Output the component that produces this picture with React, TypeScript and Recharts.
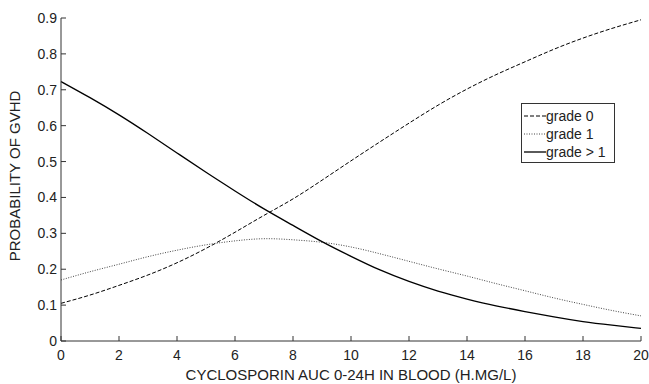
import React from 'react';
import { LineChart, Line, XAxis, YAxis } from 'recharts';

const auc = [0, 1, 2, 3, 4, 5, 6, 7, 8, 9, 10, 11, 12, 13, 14, 15, 16, 17, 18, 19, 20];
const grade0 = [0.105, 0.128, 0.155, 0.184, 0.218, 0.258, 0.303, 0.350, 0.396, 0.448, 0.502, 0.555, 0.607, 0.657, 0.702, 0.742, 0.778, 0.813, 0.844, 0.871, 0.895];
const grade1 = [0.170, 0.193, 0.214, 0.235, 0.253, 0.268, 0.279, 0.285, 0.282, 0.275, 0.262, 0.243, 0.222, 0.201, 0.181, 0.160, 0.140, 0.120, 0.102, 0.085, 0.070];
const grade2 = [0.723, 0.678, 0.630, 0.578, 0.524, 0.470, 0.418, 0.368, 0.322, 0.277, 0.236, 0.198, 0.166, 0.139, 0.117, 0.098, 0.082, 0.067, 0.054, 0.044, 0.035];
const xTicks = [0, 2, 4, 6, 8, 10, 12, 14, 16, 18, 20];
const yTicks = [0, 0.1, 0.2, 0.3, 0.4, 0.5, 0.6, 0.7, 0.8, 0.9];
const seriesNames = ['grade 0', 'grade 1', 'grade > 1'];

const data = auc.map((x, i) => ({ x, g0: grade0[i], g1: grade1[i], g2: grade2[i] }));

const FONT = '"Liberation Sans", Arial, Helvetica, sans-serif';
const AXIS = '#333';
const TXT = '#222';

const BottomTick = (p: any) => (
  <g>
    <line x1={p.x} x2={p.x} y1={p.y} y2={p.y - 5} stroke={AXIS} />
    <text x={p.x} y={p.y + 19} textAnchor="middle" fontSize={14} fontFamily={FONT} fill={TXT}>
      {p.payload.value}
    </text>
  </g>
);
const TopTick = (p: any) => (
  <line x1={p.x} x2={p.x} y1={p.y} y2={p.y + 5} stroke={AXIS} />
);
const LeftTick = (p: any) => (
  <g>
    <line x1={p.x} x2={p.x + 5} y1={p.y} y2={p.y} stroke={AXIS} />
    <text x={p.x - 4} y={p.y + 5} textAnchor="end" fontSize={14} fontFamily={FONT} fill={TXT}>
      {p.payload.value}
    </text>
  </g>
);
const RightTick = (p: any) => (
  <line x1={p.x} x2={p.x - 5} y1={p.y} y2={p.y} stroke={AXIS} />
);

const styles = [
  { key: 'g0', dash: '4 2', color: '#000', w: 1 },
  { key: 'g1', dash: '1 1.5', color: '#444', w: 1 },
  { key: 'g2', dash: undefined as any, color: '#000', w: 1.3 },
];

const LegendBox = () => (
  <svg width={95} height={61} style={{ display: 'block' }}>
    <rect x={0.5} y={0.5} width={93} height={59} fill="#fff" stroke={AXIS} />
    {seriesNames.map((n, i) => (
      <g key={n}>
        <line x1={3} x2={25} y1={13 + i * 18} y2={13 + i * 18} stroke={styles[i].color} strokeWidth={styles[i].w} strokeDasharray={styles[i].dash} />
        <text x={25} y={18 + i * 18} fontSize={14} fontFamily={FONT} fill={TXT}>{n}</text>
      </g>
    ))}
  </svg>
);

export default function App() {
  return (
    <div style={{ position: 'absolute', left: 0, top: 0, width: 649, height: 384, background: '#fff' }}>
      <LineChart width={649} height={384} data={data} margin={{ top: 18, right: 8, bottom: 0, left: 0 }}>
        <XAxis xAxisId="b" dataKey="x" type="number" domain={[0, 20]} ticks={xTicks} tickSize={0} tickMargin={0}
          tick={<BottomTick />} stroke={AXIS} height={43} interval={0}
          label={{ value: 'CYCLOSPORIN AUC 0-24H IN BLOOD (H.MG/L)', position: 'insideBottom', offset: 4, fontSize: 15, fontFamily: FONT, fill: TXT }} />
        <XAxis xAxisId="t" orientation="top" dataKey="x" type="number" domain={[0, 20]} ticks={xTicks} tickSize={0} tickMargin={0}
          tick={<TopTick />} stroke={AXIS} height={0} interval={0} />
        <YAxis yAxisId="l" type="number" domain={[0, 0.9]} ticks={yTicks} tickSize={0} tickMargin={0}
          tick={<LeftTick />} stroke={AXIS} width={61} interval={0}
          label={{ content: () => (
            <text x={14} y={176} transform="rotate(-90, 14, 176)" textAnchor="middle" dominantBaseline="central" fontSize={15} fontFamily={FONT} fill={TXT}>
              PROBABILITY OF GVHD
            </text>
          ) }} />
        <YAxis yAxisId="r" orientation="right" type="number" domain={[0, 0.9]} ticks={yTicks} tickSize={0} tickMargin={0}
          tick={<RightTick />} stroke={AXIS} width={0} interval={0} />
        {styles.map((s, i) => (
          <Line key={s.key} xAxisId="b" yAxisId="l" type="natural" dataKey={s.key} name={seriesNames[i]}
            stroke={s.color} strokeWidth={s.w} strokeDasharray={s.dash} dot={false} isAnimationActive={false} />
        ))}
      </LineChart>
      <div style={{ position: 'absolute', left: 521, top: 103 }}>
        <LegendBox />
      </div>
    </div>
  );
}
